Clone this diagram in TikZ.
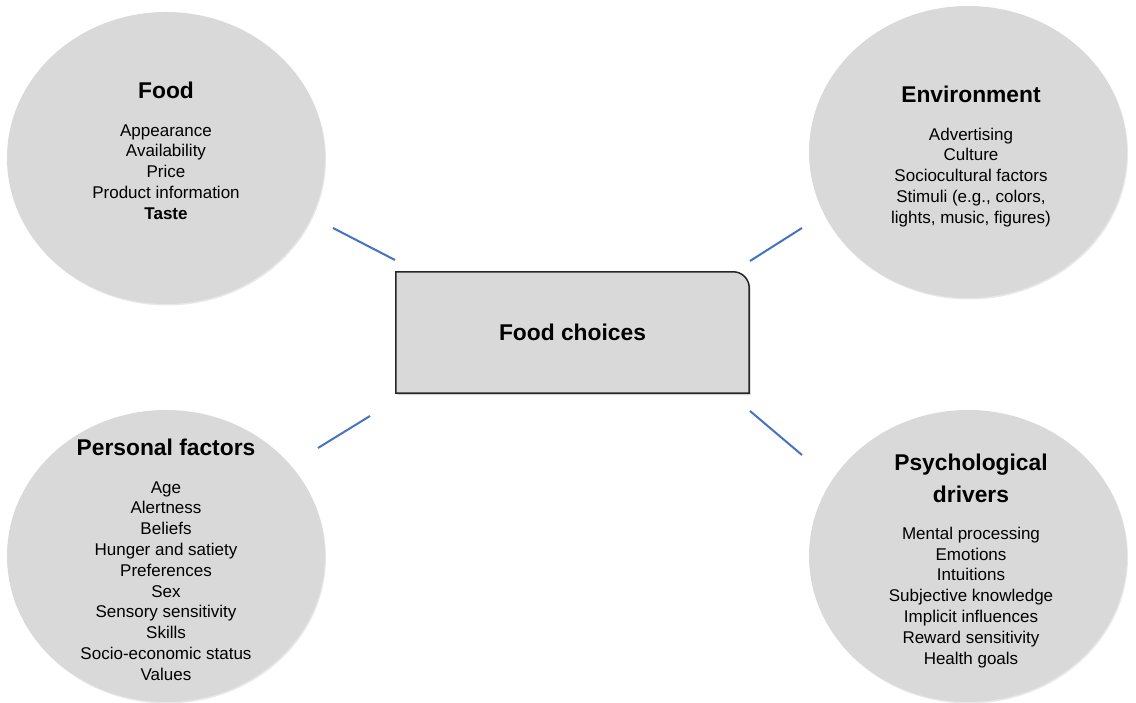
\documentclass[tikz,border=0pt]{standalone}
\usepackage{fontspec}
\setmainfont{Liberation Sans}
\usetikzlibrary{shapes.geometric,shadows,backgrounds}
\definecolor{bubblegray}{HTML}{D9D9D9}
\definecolor{linkblue}{HTML}{4472C4}
\definecolor{boxedge}{HTML}{262626}
\newcommand{\bubblehead}[1]{{\bfseries\fontsize{22.8}{27}\selectfont #1}}
\tikzset{
  bubble/.style={ellipse,fill=bubblegray,inner sep=0pt,
    minimum width=318pt,minimum height=292pt,
    drop shadow={shadow xshift=1pt,shadow yshift=-1.5pt,opacity=0.18}},
  bubble text/.style={align=center,inner sep=0pt,anchor=north,
    font=\fontsize{17}{20.8}\selectfont},
  choice box/.style={fill=bubblegray,draw=boxedge,line width=1.5pt,
    drop shadow={shadow xshift=1.5pt,shadow yshift=-2pt,opacity=0.35}},
  link/.style={draw=linkblue,line width=2pt}
}

\begin{document}
\begin{tikzpicture}[x=1pt,y=1pt]
  \useasboundingbox (0,0) rectangle (1136,703);

  % the four factor groups
  \node[bubble] (food) at (166,545) {};
  \node[bubble] (env) at (968,551) {};
  \node[bubble] (pers) at (166,147) {};
  \node[bubble] (psych) at (968,147) {};

  \node[bubble text] (foodtxt) at (166,621) {\bubblehead{Food}\\[16.5pt]
    Appearance\\ Availability\\ Price\\ Product information\\ \textbf{Taste}};
  \node[bubble text] (envtxt) at (971,617) {\bubblehead{Environment}\\[16.5pt]
    Advertising\\ Culture\\ Sociocultural factors\\ Stimuli (e.g., colors,\\
    lights, music, figures)};
  \node[bubble text] (perstxt) at (166,264) {\bubblehead{Personal factors}\\[16.5pt]
    Age\\ Alertness\\ Beliefs\\ Hunger and satiety\\ Preferences\\ Sex\\
    Sensory sensitivity\\ Skills\\ Socio-economic status\\ Values};
  \node[bubble text] (psychtxt) at (971,249) {\bubblehead{Psychological}\\[9pt]
    \bubblehead{drivers}\\[16.5pt]
    Mental processing\\ Emotions\\ Intuitions\\ Subjective knowledge\\
    Implicit influences\\ Reward sensitivity\\ Health goals};

  % centre box, only the top right corner is rounded
  \node[inner sep=0pt,minimum width=353pt,minimum height=121pt,
    font=\bfseries\fontsize{22.8}{27}\selectfont] (choice) at (572.5,370.5) {Food choices};
  \begin{scope}[on background layer]
    \draw[choice box] (choice.south west) -- (choice.north west)
      -- ([xshift=-16pt]choice.north east) arc[start angle=90,end angle=0,radius=16pt]
      -- (choice.south east) -- cycle;
  \end{scope}

  % short blue links
  \coordinate (fa) at (333,475); \coordinate (fb) at (395,443);
  \coordinate (ea) at (802,475); \coordinate (eb) at (750,442);
  \coordinate (pa) at (318,255); \coordinate (pb) at (370,287);
  \coordinate (da) at (802,248); \coordinate (db) at (750,292);
  \foreach \a/\b in {fa/fb,ea/eb,pa/pb,da/db}
    \draw[link] (\a) -- (\b);
\end{tikzpicture}
\end{document}
